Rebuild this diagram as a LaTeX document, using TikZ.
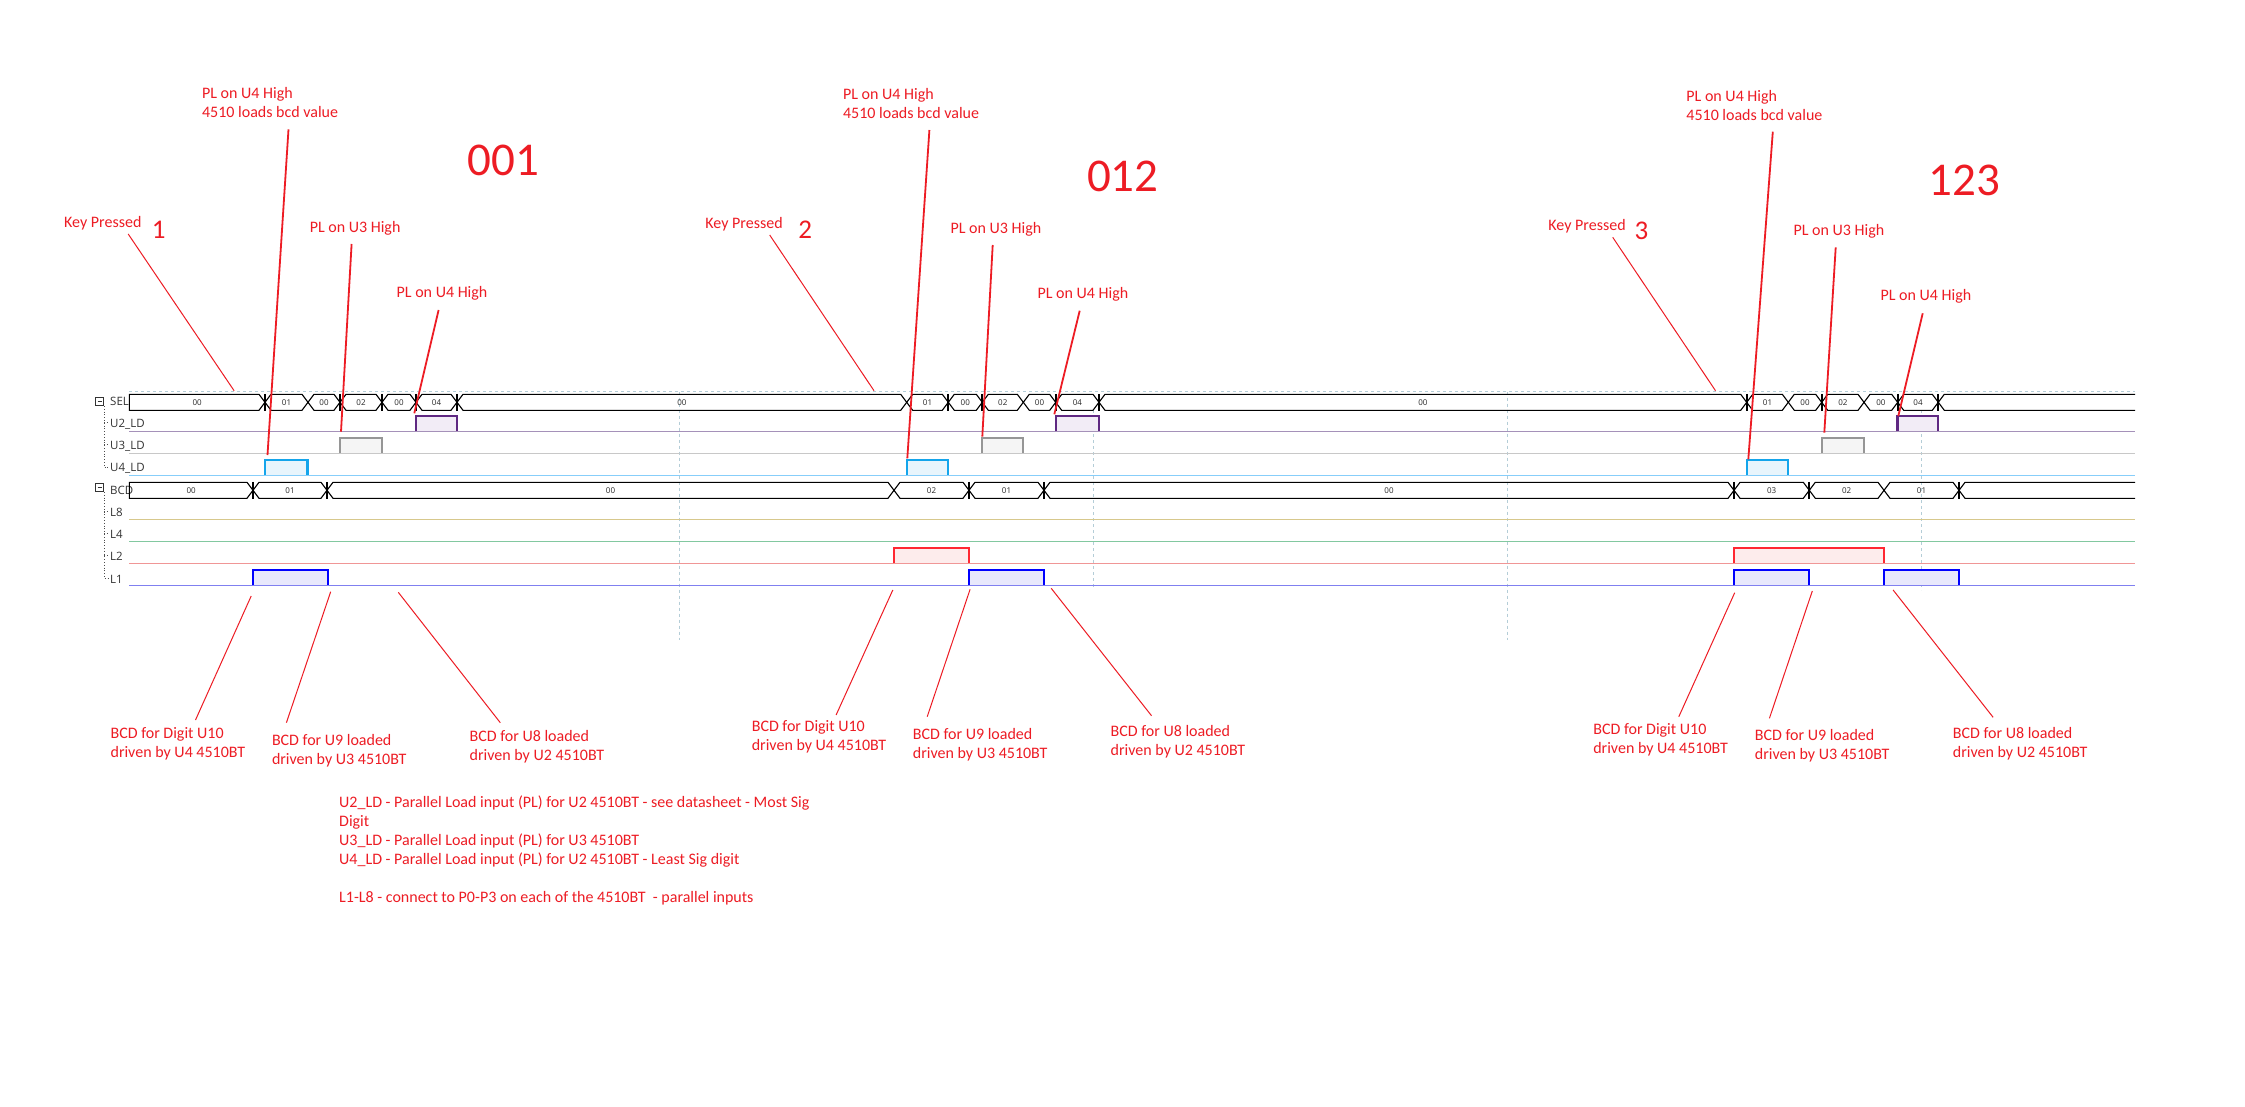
\documentclass[tikz,border=0pt]{standalone}
\usepackage{fontspec}
\setmainfont{Carlito}
\newfontfamily\sigfont{Open Sans}
\definecolor{annred}{RGB}{237,28,36}
\definecolor{dashcol}{RGB}{180,205,215}
\definecolor{utwobase}{RGB}{165,145,185}
\definecolor{utwoedge}{RGB}{95,40,130}
\definecolor{utwofill}{RGB}{242,236,246}
\definecolor{uthreebase}{RGB}{200,200,200}
\definecolor{uthreeedge}{RGB}{150,150,150}
\definecolor{uthreefill}{RGB}{245,245,245}
\definecolor{ufourbase}{RGB}{135,206,250}
\definecolor{ufouredge}{RGB}{20,165,235}
\definecolor{ufourfill}{RGB}{232,245,252}
\definecolor{leightbase}{RGB}{215,200,140}
\definecolor{lfourbase}{RGB}{130,200,160}
\definecolor{ltwobase}{RGB}{240,150,150}
\definecolor{ltwoedge}{RGB}{255,40,50}
\definecolor{ltwofill}{RGB}{253,236,236}
\definecolor{lonebase}{RGB}{128,128,240}
\definecolor{loneedge}{RGB}{0,0,255}
\definecolor{lonefill}{RGB}{232,232,252}
\newcommand\busstart[5]{%
  \draw[busline] ({#2},{#4-8}) -- ({#3-6},{#4-8}) -- ({#3},{#4}) -- ({#3-6},{#4+8}) -- ({#2},{#4+8}) -- cycle;
  \node[bustext] (#1) at ({(#2+#3)/2},{#4}) {#5};}
\newcommand\busseg[5]{%
  \draw[busline] ({#2},{#4}) -- ({#2+6},{#4-8}) -- ({#3-6},{#4-8}) -- ({#3},{#4}) -- ({#3-6},{#4+8}) -- ({#2+6},{#4+8}) -- cycle;
  \node[bustext] (#1) at ({(#2+#3)/2},{#4}) {#5};}
\newcommand\busend[3]{%
  \draw[busline] ({#2},{#3-8}) -- ({#1+6},{#3-8}) -- ({#1},{#3}) -- ({#1+6},{#3+8}) -- ({#2},{#3+8});}
\newcommand\barmark[2]{\draw[busbar] ({#1},{#2-8.5}) -- ({#1},{#2+8.5});}
\newcommand\pulsefill[5]{\fill[#5] ({#1},{#3}) rectangle ({#2},{#4});}
\newcommand\pulseedge[5]{\draw[#5,line width=2.2pt] ({#1},{#3}) -- ({#1},{#4}) -- ({#2},{#4}) -- ({#2},{#3});}
\begin{document}
\begin{tikzpicture}[x=1pt,y=-1pt,
  ann/.style={text=annred,font=\fontsize{16}{19}\selectfont,inner sep=0pt,anchor=base west},
  bignum/.style={text=annred,font=\fontsize{47}{50}\selectfont,inner sep=0pt,anchor=base west},
  midnum/.style={text=annred,font=\fontsize{27}{30}\selectfont,inner sep=0pt,anchor=base west},
  leader/.style={draw=annred,line width=1pt},
  leaderthick/.style={draw=annred,line width=1.8pt},
  sig/.style={font=\sigfont\fontsize{11.5}{13}\selectfont,text=black!80,inner sep=0pt,anchor=west},
  bustext/.style={font=\sigfont\fontsize{8}{9}\selectfont,text=black!85,inner sep=0pt},
  busline/.style={draw=black,line width=1.1pt,line join=miter},
  busbar/.style={draw=black,line width=1.7pt},
  dashv/.style={draw=dashcol,line width=1pt,dash pattern=on 3pt off 3pt},
  sigline/.style={line width=1.2pt},
  tree/.style={draw=black!70,line width=0.8pt,dotted},
]
\useasboundingbox (0,0) rectangle (2245,1106);
\fill[white] (0,0) rectangle (2245,1106);

% dashed cursor lines
\draw[dashv] (129.3,391.7) -- (2135,391.7);
\draw[dashv] (679.3,391.7) -- (679.3,640);
\draw[dashv] (1093.3,410) -- (1093.3,588);
\draw[dashv] (1507.3,391.7) -- (1507.3,640);
\draw[dashv] (1921,410) -- (1921,590);

% signal names and tree
\node[sig] (nsel) at (110,401.7) {SEL};
\node[sig] (nutwo) at (110,424.3) {U2\_LD};
\node[sig] (nuthree) at (110,446.7) {U3\_LD};
\node[sig] (nufour) at (110,468.3) {U4\_LD};
\node[sig] (nbcd) at (110,490) {BCD};
\node[sig] (nleight) at (110,512.7) {L8};
\node[sig] (nlfour) at (110,534.3) {L4};
\node[sig] (nltwo) at (110,556.7) {L2};
\node[sig] (nlone) at (110,579) {L1};
\draw[black!80,line width=0.9pt] (95.5,397) rectangle (103.5,405);
\draw[black!80,line width=0.9pt] (97.5,401) -- (101.5,401);
\draw[black!80,line width=0.9pt] (95.5,483) rectangle (103.5,491);
\draw[black!80,line width=0.9pt] (97.5,487) -- (101.5,487);
\draw[tree] (104,406) -- (104,467) -- (108,467);
\draw[tree] (104,422) -- (108,422);
\draw[tree] (104,444.5) -- (108,444.5);
\draw[tree] (104,492) -- (104,578) -- (108,578);
\draw[tree] (104,511) -- (108,511);
\draw[tree] (104,533) -- (108,533);
\draw[tree] (104,555) -- (108,555);

% pulse fills
\pulsefill{415.7}{457}{431.3}{415.7}{utwofill}
\pulsefill{1056}{1099}{431.3}{415.7}{utwofill}
\pulsefill{1897.5}{1938.2}{431.3}{415.7}{utwofill}
\pulsefill{340}{382}{453.3}{438}{uthreefill}
\pulsefill{982.2}{1023.3}{453.3}{438}{uthreefill}
\pulsefill{1821.7}{1864}{453.3}{438}{uthreefill}
\pulsefill{265}{307.5}{475.3}{460}{ufourfill}
\pulsefill{906.7}{948.3}{475.3}{460}{ufourfill}
\pulsefill{1747}{1788}{475.3}{460}{ufourfill}
\pulsefill{894}{969.3}{563.3}{548}{ltwofill}
\pulsefill{1734}{1884}{563.3}{548}{ltwofill}
\pulsefill{253}{328}{585.3}{570}{lonefill}
\pulsefill{969.3}{1043.7}{585.3}{570}{lonefill}
\pulsefill{1734}{1809}{585.3}{570}{lonefill}
\pulsefill{1884}{1959}{585.3}{570}{lonefill}

% base lines
\draw[sigline,utwobase] (129.3,431.3) -- (2135,431.3);
\draw[sigline,uthreebase] (129.3,453.3) -- (2135,453.3);
\draw[sigline,ufourbase] (129.3,475.3) -- (2135,475.3);
\draw[sigline,leightbase] (129.3,519.3) -- (2135,519.3);
\draw[sigline,lfourbase] (129.3,541.3) -- (2135,541.3);
\draw[sigline,ltwobase] (129.3,563.3) -- (2135,563.3);
\draw[sigline,lonebase] (129.3,585.3) -- (2135,585.3);

% pulse edges
\pulseedge{415.7}{457}{431.3}{415.7}{utwoedge}
\pulseedge{1056}{1099}{431.3}{415.7}{utwoedge}
\pulseedge{1897.5}{1938.2}{431.3}{415.7}{utwoedge}
\pulseedge{340}{382}{453.3}{438}{uthreeedge}
\pulseedge{982.2}{1023.3}{453.3}{438}{uthreeedge}
\pulseedge{1821.7}{1864}{453.3}{438}{uthreeedge}
\pulseedge{265}{307.5}{475.3}{460}{ufouredge}
\pulseedge{906.7}{948.3}{475.3}{460}{ufouredge}
\pulseedge{1747}{1788}{475.3}{460}{ufouredge}
\pulseedge{894}{969.3}{563.3}{548}{ltwoedge}
\pulseedge{1734}{1884}{563.3}{548}{ltwoedge}
\pulseedge{253}{328}{585.3}{570}{loneedge}
\pulseedge{969.3}{1043.7}{585.3}{570}{loneedge}
\pulseedge{1734}{1809}{585.3}{570}{loneedge}
\pulseedge{1884}{1959}{585.3}{570}{loneedge}

% SEL bus
\busstart{sa}{129.3}{265}{402.3}{00}
\busseg{sb}{265}{308}{402.3}{01}
\busseg{sc}{308}{340}{402.3}{00}
\busseg{sd}{340}{382}{402.3}{02}
\busseg{se}{382}{416}{402.3}{00}
\busseg{sf}{416}{457}{402.3}{04}
\busseg{sg}{457}{906.7}{402.3}{00}
\busseg{sh}{906.7}{948.3}{402.3}{01}
\busseg{si}{948.3}{982.3}{402.3}{00}
\busseg{sj}{982.3}{1023.3}{402.3}{02}
\busseg{sk}{1023.3}{1055.7}{402.3}{00}
\busseg{sl}{1055.7}{1099}{402.3}{04}
\busseg{sm}{1099}{1746.7}{402.3}{00}
\busseg{sn}{1746.7}{1788.3}{402.3}{01}
\busseg{so}{1788.3}{1821.7}{402.3}{00}
\busseg{sp}{1821.7}{1864}{402.3}{02}
\busseg{sq}{1864}{1897.7}{402.3}{00}
\busseg{sr}{1897.7}{1938.3}{402.3}{04}
\busend{1938.3}{2135}{402.3}
\foreach \xx in {265,340,382,416,457,948.3,982.3,1055.7,1099,1746.7,1821.7,1897.7,1938.3}{\barmark{\xx}{402.3}}

% BCD bus
\busstart{ba}{129.3}{253}{490.3}{00}
\busseg{bb}{253}{327}{490.3}{01}
\busseg{bc}{327}{894}{490.3}{00}
\busseg{bd}{894}{969}{490.3}{02}
\busseg{be}{969}{1044}{490.3}{01}
\busseg{bf}{1044}{1734}{490.3}{00}
\busseg{bg}{1734}{1809.3}{490.3}{03}
\busseg{bh}{1809.3}{1884}{490.3}{02}
\busseg{bi}{1884}{1959}{490.3}{01}
\busend{1959}{2135}{490.3}
\foreach \xx in {253,327,969,1044,1734,1809.3,1959}{\barmark{\xx}{490.3}}

% ---------- annotations: set 1
\node[ann] (pa1t) at (201.9,98.3) {PL on U4 High};
\node[ann] (pa1u) at (201.9,117.3) {4510 loads bcd value};
\node[bignum] (num1) at (467.4,175) {001};
\node[ann] (kp1) at (64,227.3) {Key Pressed};
\node[midnum] (kd1) at (151.7,238) {1};
\node[ann] (pc1) at (309.6,232.3) {PL on U3 High};
\node[ann] (pb1) at (396.5,297.3) {PL on U4 High};
% set 2
\node[ann] (pa2t) at (842.9,99.3) {PL on U4 High};
\node[ann] (pa2u) at (842.9,118.3) {4510 loads bcd value};
\node[bignum] (num2) at (1086.8,191.7) {012};
\node[ann] (kp2) at (705.2,228.3) {Key Pressed};
\node[midnum] (kd2) at (798.2,238) {2};
\node[ann] (pc2) at (950.4,233.3) {PL on U3 High};
\node[ann] (pb2) at (1037.4,298.3) {PL on U4 High};
% set 3
\node[ann] (pa3t) at (1686.2,101) {PL on U4 High};
\node[ann] (pa3u) at (1686.2,120) {4510 loads bcd value};
\node[bignum] (num3) at (1928.2,195) {123};
\node[ann] (kp3) at (1548.2,230.3) {Key Pressed};
\node[midnum] (kd3) at (1634.4,239.5) {3};
\node[ann] (pc3) at (1793.4,235) {PL on U3 High};
\node[ann] (pb3) at (1880.4,300.3) {PL on U4 High};

% leaders top
\coordinate (kp1s) at (128.2,234); \coordinate (kp1e) at (234.1,390.7);
\coordinate (pa1s) at (288.5,129.3); \coordinate (pa1e) at (267.5,455);
\coordinate (pc1s) at (351.6,244); \coordinate (pc1e) at (341,431.7);
\coordinate (pb1s) at (438.6,310); \coordinate (pb1e) at (414.3,413.3);
\coordinate (kp2s) at (769.7,235); \coordinate (kp2e) at (874,390.7);
\coordinate (pa2s) at (929.4,130); \coordinate (pa2e) at (907.3,458.3);
\coordinate (pc2s) at (992.7,245); \coordinate (pc2e) at (982.3,436.7);
\coordinate (pb2s) at (1079.7,310.7); \coordinate (pb2e) at (1054.3,414.3);
\coordinate (kp3s) at (1612.7,237.3); \coordinate (kp3e) at (1715.5,390.7);
\coordinate (pa3s) at (1772.8,131.7); \coordinate (pa3e) at (1748.3,459.3);
\coordinate (pc3s) at (1835.7,247.3); \coordinate (pc3e) at (1824.3,432.7);
\coordinate (pb3s) at (1922.7,313.3); \coordinate (pb3e) at (1898.3,416);
\draw[leader] (kp1s) -- (kp1e);
\draw[leaderthick] (pa1s) -- (pa1e);
\draw[leaderthick] (pc1s) -- (pc1e);
\draw[leaderthick] (pb1s) -- (pb1e);
\draw[leader] (kp2s) -- (kp2e);
\draw[leaderthick] (pa2s) -- (pa2e);
\draw[leaderthick] (pc2s) -- (pc2e);
\draw[leaderthick] (pb2s) -- (pb2e);
\draw[leader] (kp3s) -- (kp3e);
\draw[leaderthick] (pa3s) -- (pa3e);
\draw[leaderthick] (pc3s) -- (pc3e);
\draw[leaderthick] (pb3s) -- (pb3e);

% bottom annotations
\node[ann] (da1) at (110.4,738.3) {BCD for Digit U10};
\node[ann] (da1b) at (110.4,757.3) {driven by U4 4510BT};
\node[ann] (db1) at (271.8,745) {BCD for U9 loaded};
\node[ann] (db1b) at (271.8,764) {driven by U3 4510BT};
\node[ann] (dc1) at (469.5,741.7) {BCD for U8 loaded};
\node[ann] (dc1b) at (469.5,760.7) {driven by U2 4510BT};
\node[ann] (da2) at (751.6,731.7) {BCD for Digit U10};
\node[ann] (da2b) at (751.6,750.7) {driven by U4 4510BT};
\node[ann] (db2) at (912.7,739) {BCD for U9 loaded};
\node[ann] (db2b) at (912.7,758) {driven by U3 4510BT};
\node[ann] (dc2) at (1110.5,736) {BCD for U8 loaded};
\node[ann] (dc2b) at (1110.5,755) {driven by U2 4510BT};
\node[ann] (da3) at (1593.1,734) {BCD for Digit U10};
\node[ann] (da3b) at (1593.1,753) {driven by U4 4510BT};
\node[ann] (db3) at (1754.7,740.7) {BCD for U9 loaded};
\node[ann] (db3b) at (1754.7,759.7) {driven by U3 4510BT};
\node[ann] (dc3) at (1952.7,738.3) {BCD for U8 loaded};
\node[ann] (dc3b) at (1952.7,757.3) {driven by U2 4510BT};

\coordinate (ba1s) at (251.2,596); \coordinate (ba1e) at (195.5,720);
\coordinate (bb1s) at (330.7,591.7); \coordinate (bb1e) at (286.4,722.7);
\coordinate (bc1s) at (398.3,592.3); \coordinate (bc1e) at (500.3,722.7);
\coordinate (ba2s) at (892.8,590); \coordinate (ba2e) at (836.1,715);
\coordinate (bb2s) at (970.1,589.3); \coordinate (bb2e) at (927.2,716.7);
\coordinate (bc2s) at (1051.2,588.3); \coordinate (bc2e) at (1151.5,715.7);
\coordinate (ba3s) at (1734.7,592.7); \coordinate (ba3e) at (1678.8,716.7);
\coordinate (bb3s) at (1812.3,591); \coordinate (bb3e) at (1769.4,718.3);
\coordinate (bc3s) at (1893.1,590); \coordinate (bc3e) at (1993.1,717.3);
\foreach \nn in {ba1,bb1,bc1,ba2,bb2,bc2,ba3,bb3,bc3}{\draw[leader] (\nn s) -- (\nn e);}

% notes
\node[ann] (nt1) at (339,807.7) {U2\_LD - Parallel Load input (PL) for U2 4510BT - see datasheet - Most Sig};
\node[ann] (nt2) at (339,826.7) {Digit};
\node[ann] (nt3) at (339,845.7) {U3\_LD - Parallel Load input (PL) for U3 4510BT};
\node[ann] (nt4) at (339,864.3) {U4\_LD - Parallel Load input (PL) for U2 4510BT - Least Sig digit};
\node[ann] (nt5) at (339,902.3) {L1-L8 - connect to P0-P3 on each of the 4510BT\ \ - parallel inputs};
\end{tikzpicture}
\end{document}
